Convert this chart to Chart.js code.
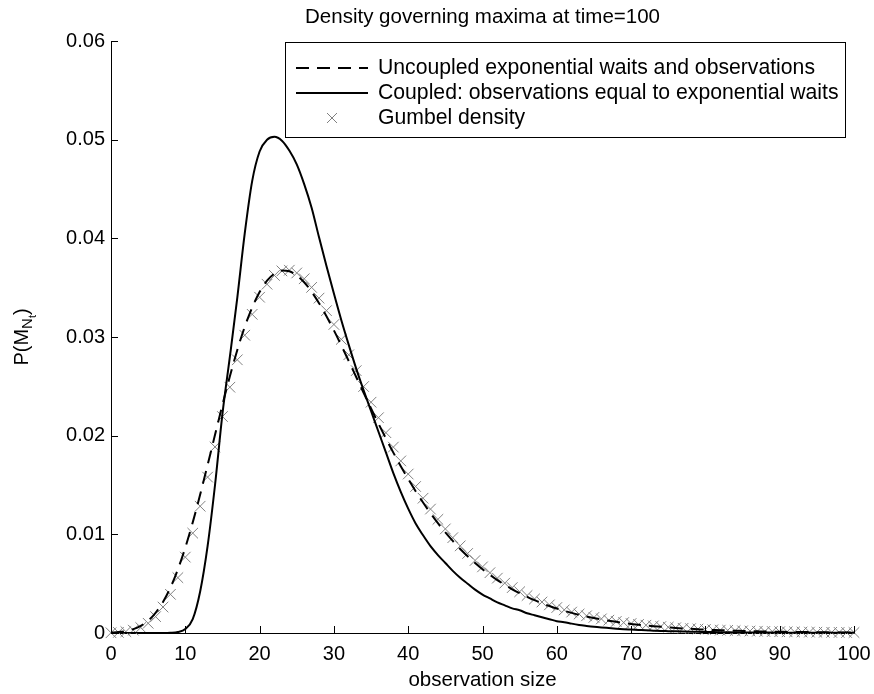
<!DOCTYPE html>
<html lang="en">
<head>
<meta charset="UTF-8">
<title>Density governing maxima at time=100</title>
<script src="https://cdn.jsdelivr.net/npm/chart.js"></script>
<style>
  html, body { margin: 0; padding: 0; background: #fff; }
</style>
</head>
<body>
<canvas id="myChart" width="874" height="694"></canvas>
<script>
// observation size grid (one point per unit)
const obsSize = [0,1,2,3,4,5,6,7,8,9,10,11,12,13,14,15,16,17,18,19,20,21,22,23,24,25,26,27,28,29,30,
  31,32,33,34,35,36,37,38,39,40,41,42,43,44,45,46,47,48,49,50,51,52,53,54,55,56,57,58,59,60,
  61,62,63,64,65,66,67,68,69,70,71,72,73,74,75,76,77,78,79,80,81,82,83,84,85,86,87,88,89,90,
  91,92,93,94,95,96,97,98,99,100];

// dashed: uncoupled exponential waits and observations
const uncoupled = [0.000039,0.000091,0.000197,0.000394,0.000725,0.001255,0.00205,0.00315,0.0046,0.00644,
  0.00866,0.01121,0.01403,0.01702,0.02009,0.02313,0.02602,0.02869,0.03103,0.03299,
  0.03456,0.03571,0.03642,0.03673,0.03666,0.03625,0.03555,0.03459,0.03343,0.03211,
  0.03067,0.02914,0.02756,0.02595,0.02434,0.02276,0.02121,0.01972,0.01828,0.01691,
  0.01561,0.01437,0.01322,0.01214,0.01113,0.01019,0.00933,0.00852,0.00778,0.00709,
  0.00646,0.00589,0.00536,0.00488,0.00443,0.00403,0.00366,0.00333,0.00302,0.00274,
  0.00248,0.00225,0.00204,0.00185,0.00168,0.00152,0.00138,0.00125,0.00113,0.00102,
  0.00092,0.00084,0.00076,0.00069,0.00063,0.00057,0.00051,0.00046,0.00042,0.00038,
  0.00034,0.00031,0.00028,0.00026,0.00023,0.00021,0.00019,0.00017,0.00015,0.00014,
  0.00013,0.00011,0.0001,0.00009,0.00009,0.00008,0.00007,0.00006,0.00006,0.00005,0.00005];

// solid: coupled, observations equal to exponential waits
const coupled = [0,0,0,0,0,0,0,0,0.00002,0.0001,
  0.0004,0.0014,0.0042,0.0088,0.0150,0.0222,0.0280,0.0340,0.0405,0.0458,
  0.0488,0.0500,0.0503,0.0499,0.0489,0.0475,0.0455,0.0431,0.0401,0.0372,
  0.0344,0.0317,0.0292,0.0268,0.0246,0.0225,0.0204,0.0183,0.0162,0.0143,
  0.0126,0.0111,0.0099,0.0088,0.0079,0.0071,0.0063,0.0056,0.0050,0.0044,
  0.0039,0.0035,0.0031,0.0028,0.0025,0.0023,0.0020,0.0018,0.0016,0.0014,
  0.0012,0.0011,0.00095,0.00082,0.00072,0.00063,0.00056,0.0005,0.00044,0.00039,
  0.00035,0.00031,0.00027,0.00024,0.00021,0.00019,0.00017,0.00015,0.00013,0.00012,
  0.0001,0.00009,0.00008,0.00007,0.00006,0.00006,0.00005,0.00005,0.00004,0.00004,
  0.00003,0.00003,0.00003,0.00003,0.00002,0.00002,0.00002,0.00002,0.00002,0.00002,0.00002];

// crosses: Gumbel density
const gumbel = [0.000024,0.000061,0.000137,0.000288,0.000552,0.000985,0.00166,0.00263,0.00392,0.00561,
  0.00769,0.01012,0.01285,0.0158,0.01886,0.02194,0.02491,0.02769,0.03018,0.0323,
  0.03403,0.03535,0.03624,0.0367,0.03677,0.03649,0.0359,0.03503,0.03394,0.03267,
  0.03127,0.02976,0.0282,0.02659,0.02498,0.02339,0.02182,0.0203,0.01884,0.01744,
  0.01611,0.01485,0.01366,0.01256,0.01152,0.01055,0.00966,0.00883,0.00806,0.00735,
  0.0067,0.00611,0.00556,0.00506,0.0046,0.00418,0.0038,0.00345,0.00314,0.00285,
  0.00258,0.00234,0.00212,0.00192,0.00174,0.00158,0.00143,0.0013,0.00117,0.00106,
  0.00096,0.00087,0.00079,0.00072,0.00065,0.00059,0.00053,0.00048,0.00044,0.0004,
  0.00036,0.00032,0.00029,0.00027,0.00024,0.00022,0.0002,0.00018,0.00016,0.00015,
  0.00013,0.00012,0.00011,0.0001,0.00009,0.00008,0.000074,0.000067,0.00006,0.000055,0.00005];

const xTicks = [0,10,20,30,40,50,60,70,80,90,100];
const yTicks = [0,0.01,0.02,0.03,0.04,0.05,0.06];

const titleText = 'Density governing maxima at time=100';
const xLabel = 'observation size';
const seriesNames = ['Uncoupled exponential waits and observations',
  'Coupled: observations equal to exponential waits',
  'Gumbel density'];

const FONT = '"Liberation Sans", Arial, Helvetica, sans-serif';

function pts(arr) {
  return obsSize.map((x, i) => ({x: x, y: arr[i]}));
}

// inward tick marks, title, axis labels, boxed legend
const decorations = {
  id: 'decorations',
  afterDraw(chart) {
    const ctx = chart.ctx;
    const a = chart.chartArea;
    const xs = chart.scales.x, ys = chart.scales.y;
    ctx.save();
    ctx.strokeStyle = '#000';
    ctx.lineWidth = 1;
    ctx.beginPath();
    xTicks.forEach(v => {
      const px = Math.round(xs.getPixelForValue(v)) + 0.5;
      ctx.moveTo(px, a.bottom);
      ctx.lineTo(px, a.bottom - 7);
    });
    yTicks.forEach(v => {
      const py = Math.round(ys.getPixelForValue(v)) + 0.5;
      ctx.moveTo(a.left, py);
      ctx.lineTo(a.left + 7, py);
    });
    ctx.stroke();

    ctx.fillStyle = '#000';
    ctx.font = '20.5px ' + FONT;
    ctx.textAlign = 'center';
    ctx.textBaseline = 'alphabetic';
    const cx = (a.left + a.right) / 2;
    ctx.fillText(titleText, cx, 23);
    ctx.fillText(xLabel, cx, 686);

    // y label P(M_{N_t}) rotated
    ctx.save();
    ctx.translate(28, (a.top + a.bottom) / 2);
    ctx.rotate(-Math.PI / 2);
    ctx.textAlign = 'left';
    const parts = [['P(M', 20, 0], ['N', 15, 4], ['t', 11, 8], [')', 20, 0]];
    let w = 0;
    parts.forEach(p => { ctx.font = p[1] + 'px ' + FONT; w += ctx.measureText(p[0]).width; });
    let tx = -w / 2;
    parts.forEach(p => {
      ctx.font = p[1] + 'px ' + FONT;
      ctx.fillText(p[0], tx, p[2]);
      tx += ctx.measureText(p[0]).width;
    });
    ctx.restore();

    // legend
    const L = {left: 285.5, top: 42.5, right: 845.5, bottom: 137.5};
    ctx.fillStyle = '#fff';
    ctx.fillRect(L.left, L.top, L.right - L.left, L.bottom - L.top);
    ctx.strokeStyle = '#000';
    ctx.lineWidth = 1;
    ctx.strokeRect(L.left, L.top, L.right - L.left, L.bottom - L.top);
    const rows = [68, 93, 118];
    const ds = chart.data.datasets;
    rows.forEach((ry, i) => {
      const d = ds[i];
      ctx.save();
      if (d.showLine === false) {
        ctx.strokeStyle = d.pointBorderColor;
        ctx.lineWidth = 1;
        const cxp = 332, r = 5;
        ctx.beginPath();
        ctx.moveTo(cxp - r, ry - r); ctx.lineTo(cxp + r, ry + r);
        ctx.moveTo(cxp - r, ry + r); ctx.lineTo(cxp + r, ry - r);
        ctx.stroke();
      } else {
        ctx.strokeStyle = d.borderColor;
        ctx.lineWidth = d.borderWidth;
        ctx.setLineDash(d.borderDash || []);
        ctx.beginPath();
        ctx.moveTo(296, ry);
        ctx.lineTo(368, ry);
        ctx.stroke();
      }
      ctx.restore();
      ctx.fillStyle = '#000';
      ctx.font = '21.2px ' + FONT;
      ctx.textAlign = 'left';
      ctx.textBaseline = 'middle';
      ctx.fillText(d.label, 378, ry);
    });
    ctx.restore();
  }
};

const ctx = document.getElementById('myChart').getContext('2d');
const myChart = new Chart(ctx, {
  type: 'line',
  data: {
    datasets: [{
      label: seriesNames[0],
      data: pts(uncoupled),
      borderColor: '#000',
      borderWidth: 2,
      borderDash: [13, 8],
      pointRadius: 0,
      fill: false,
      cubicInterpolationMode: 'monotone'
    }, {
      label: seriesNames[1],
      data: pts(coupled),
      borderColor: '#000',
      borderWidth: 2,
      pointRadius: 0,
      fill: false,
      cubicInterpolationMode: 'monotone'
    }, {
      label: seriesNames[2],
      data: pts(gumbel),
      showLine: false,
      pointStyle: 'crossRot',
      pointRadius: 7.5,
      pointBorderColor: '#808080',
      pointBackgroundColor: '#808080',
      pointBorderWidth: 1,
      clip: false
    }]
  },
  options: {
    responsive: false,
    devicePixelRatio: 1,
    animation: false,
    layout: { padding: { left: 0, right: 20, top: 41, bottom: 0 } },
    plugins: { legend: { display: false }, tooltip: { enabled: false }, title: { display: false } },
    scales: {
      x: {
        type: 'linear',
        min: 0,
        max: 100,
        afterFit: s => { s.height = 61; s.paddingLeft = 0; s.paddingRight = 0; },
        afterBuildTicks: s => { s.ticks = xTicks.map(v => ({value: v})); },
        grid: { display: false, drawTicks: false },
        border: { display: true, color: '#000', width: 1 },
        ticks: { color: '#000', font: { family: FONT, size: 20 }, padding: 9, maxRotation: 0 }
      },
      y: {
        type: 'linear',
        min: 0,
        max: 0.06,
        afterFit: s => { s.width = 111; s.paddingTop = 0; s.paddingBottom = 0; },
        afterBuildTicks: s => { s.ticks = yTicks.map(v => ({value: v})); },
        grid: { display: false, drawTicks: false },
        border: { display: true, color: '#000', width: 1 },
        ticks: {
          color: '#000',
          font: { family: FONT, size: 20 },
          padding: 6,
          callback: v => String(Number(v.toFixed(2)))
        }
      }
    }
  },
  plugins: [decorations]
});
</script>
</body>
</html>
